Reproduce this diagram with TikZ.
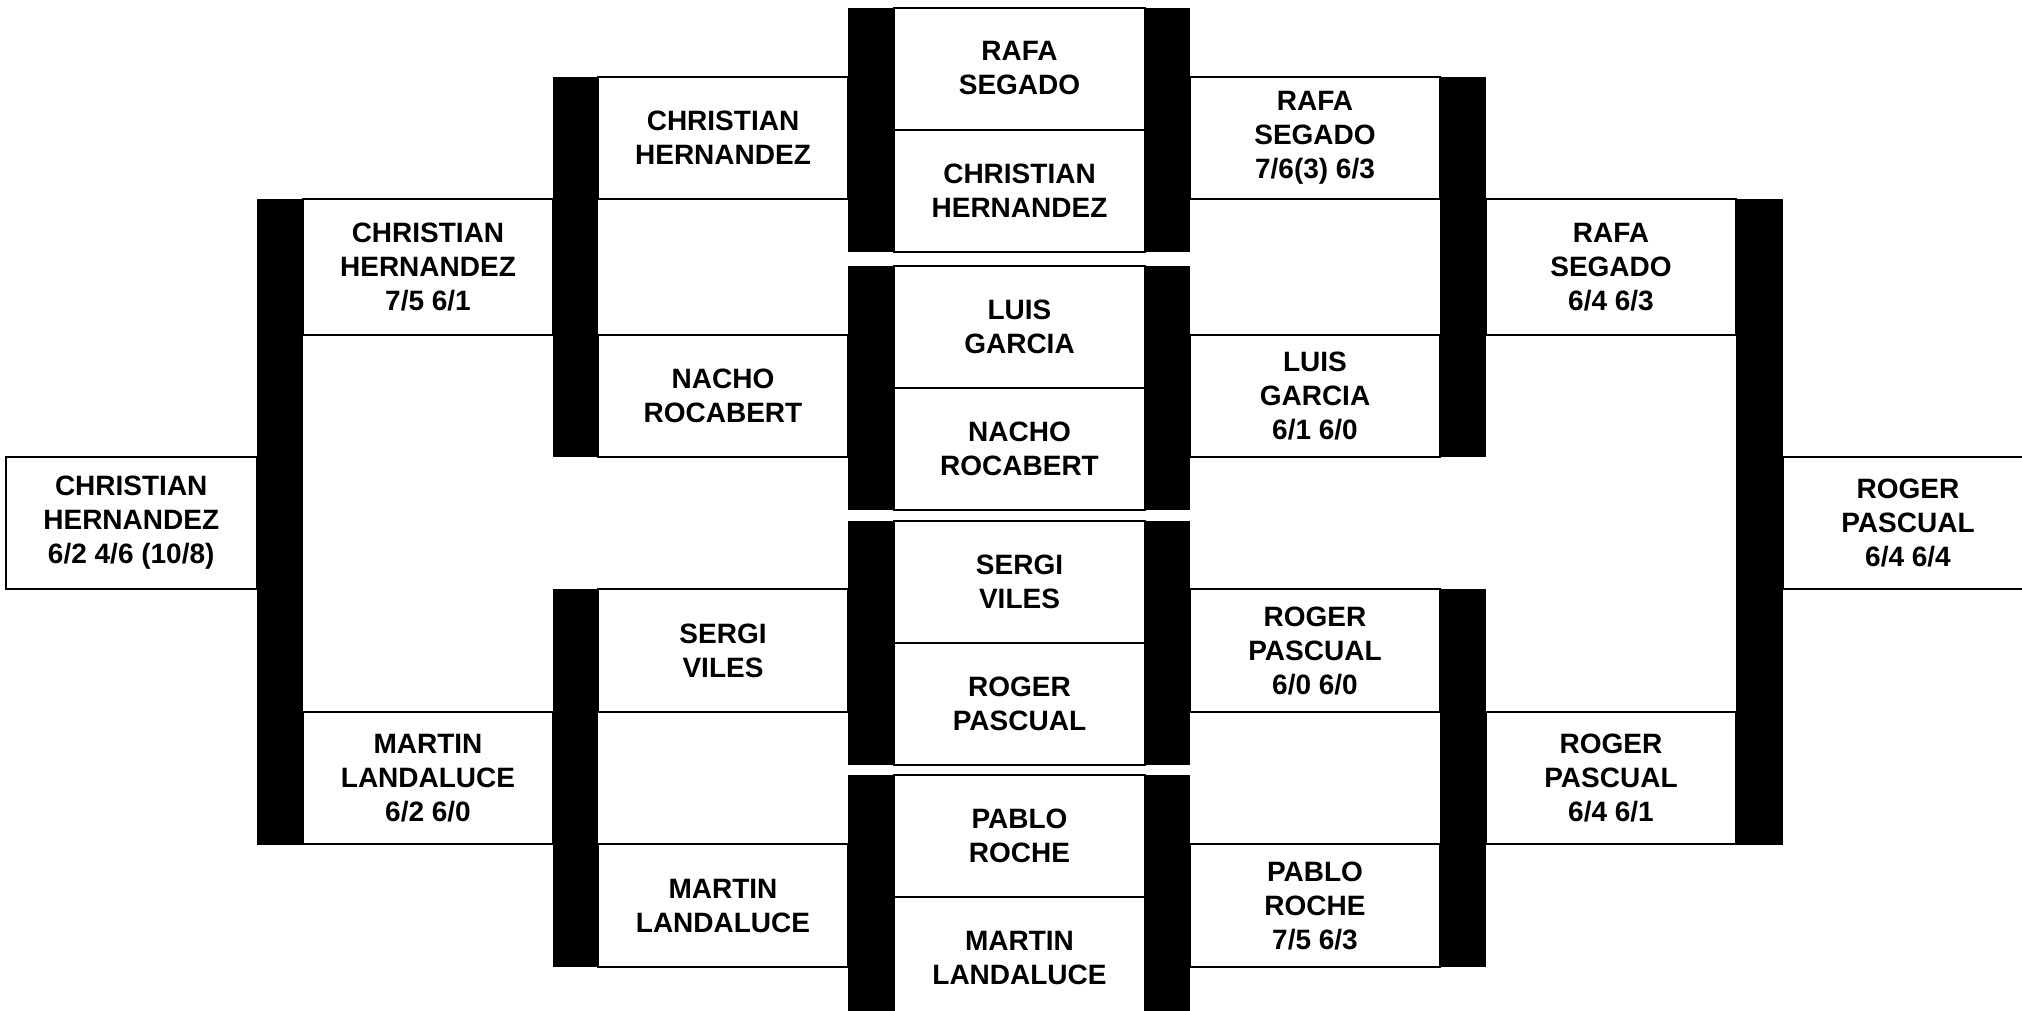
\documentclass[tikz,border=0pt]{standalone}
\usepackage{fontspec}
\setmainfont{Liberation Sans}
\newcommand{\brbox}[6]{% name, x1, y1, x2, y2, text
  \node[box, minimum width={#4pt-#2pt}, minimum height={#5pt-#3pt}] (#1) at ({(#2+#4)/2},{(#3+#5)/2}) {#6};}
\newcommand{\brbar}[5]{% name, x1, y1, x2, y2
  \node[barbox, minimum width={#4pt-#2pt}, minimum height={#5pt-#3pt}] (#1) at ({(#2+#4)/2},{(#3+#5)/2}) {};}
\begin{document}
\begin{tikzpicture}[x=1pt,y=-1pt,
  box/.style={draw=black, line width=2pt, rectangle, inner sep=0pt, outer sep=0pt, align=center,
    font=\bfseries\fontsize{28}{34}\selectfont, fill=white},
  barbox/.style={fill=black, draw=none, rectangle, inner sep=0pt, outer sep=0pt}]
\useasboundingbox (0,0) rectangle (2022,1010);
% ---- centre column
\brbox{c1a}{894}{7.5}{1145}{129.5}{RAFA\\SEGADO}
\brbox{c1b}{894}{129.5}{1145}{252}{CHRISTIAN\\HERNANDEZ}
\brbox{c2a}{894}{266}{1145}{388}{LUIS\\GARCIA}
\brbox{c2b}{894}{388}{1145}{510}{NACHO\\ROCABERT}
\brbox{c3a}{894}{521}{1145}{643}{SERGI\\VILES}
\brbox{c3b}{894}{643}{1145}{765}{ROGER\\PASCUAL}
\brbox{c4a}{894}{775}{1145}{897}{PABLO\\ROCHE}
\brbox{c4b}{894}{897}{1145}{1019}{MARTIN\\LANDALUCE}
% ---- left round 2
\brbox{l2a}{598}{77}{848}{199}{CHRISTIAN\\HERNANDEZ}
\brbox{l2b}{598}{335}{848}{457}{NACHO\\ROCABERT}
\brbox{l2c}{598}{589}{848}{712}{SERGI\\VILES}
\brbox{l2d}{598}{844}{848}{967}{MARTIN\\LANDALUCE}
% ---- right round 2
\brbox{r2a}{1190}{77}{1440}{199}{RAFA\\SEGADO\\7/6(3) 6/3}
\brbox{r2b}{1190}{335}{1440}{457}{LUIS\\GARCIA\\6/1 6/0}
\brbox{r2c}{1190}{589}{1440}{712}{ROGER\\PASCUAL\\6/0 6/0}
\brbox{r2d}{1190}{844}{1440}{967}{PABLO\\ROCHE\\7/5 6/3}
% ---- left round 1
\brbox{l1a}{303}{199}{553}{335}{CHRISTIAN\\HERNANDEZ\\7/5 6/1}
\brbox{l1b}{303}{712}{553}{844}{MARTIN\\LANDALUCE\\6/2 6/0}
% ---- right round 1
\brbox{r1a}{1486}{199}{1736}{335}{RAFA\\SEGADO\\6/4 6/3}
\brbox{r1b}{1486}{712}{1736}{844}{ROGER\\PASCUAL\\6/4 6/1}
% ---- finals
\brbox{fl}{5.5}{457}{257}{589}{CHRISTIAN\\HERNANDEZ\\6/2 4/6 (10/8)}
\brbox{fr}{1783}{457}{2033}{589}{ROGER\\PASCUAL\\6/4 6/4}
% ---- bars
\brbar{cb1l}{848}{8}{894}{252}
\brbar{cb1r}{1145}{8}{1190}{252}
\brbar{cb2l}{848}{266}{894}{510}
\brbar{cb2r}{1145}{266}{1190}{510}
\brbar{cb3l}{848}{521}{894}{765}
\brbar{cb3r}{1145}{521}{1190}{765}
\brbar{cb4l}{848}{775}{894}{1020}
\brbar{cb4r}{1145}{775}{1190}{1020}
\brbar{lb2a}{553}{77}{598}{457}
\brbar{lb2b}{553}{589}{598}{967}
\brbar{rb2a}{1440}{77}{1486}{457}
\brbar{rb2b}{1440}{589}{1486}{967}
\brbar{lb1}{257}{199}{303}{845}
\brbar{rb1}{1736}{199}{1783}{845}
\end{tikzpicture}
\end{document}
